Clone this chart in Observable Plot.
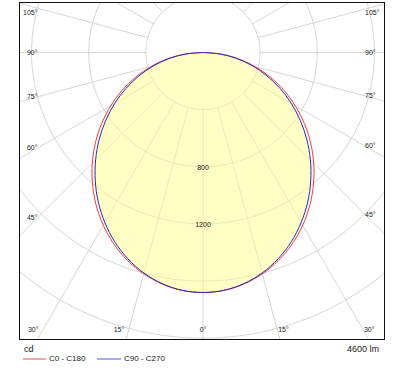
<!DOCTYPE html>
<html><head><meta charset="utf-8">
<script src="https://cdn.jsdelivr.net/npm/d3@7"></script>
<script src="https://cdn.jsdelivr.net/npm/@observablehq/plot@0.6"></script>
<style>
body{margin:0;background:#fff;font-family:"Liberation Sans",Arial,sans-serif;}
#wrap{position:relative;width:405px;height:370px;overflow:hidden;}
#wrap svg{position:absolute;left:0;top:0;}
.t{position:absolute;font-size:9px;color:#222;line-height:10px;white-space:nowrap;}
.lg{position:absolute;font-size:8px;color:#222;line-height:10px;white-space:nowrap;}
.sw{position:absolute;height:2px;}
</style></head><body><div id="wrap"></div>
<script>
// ---- data ----
const gammaDeg = [0,5,10,15,20,25,30,35,40,45,50,55,60,65,70,75,80,85,90];
const intensityC0C180  = [1680,1672,1646,1604,1548,1478,1396,1304,1203,1096,983,866,746,624,500,376,251,125,0];
const intensityC90C270 = [1680,1671,1643,1598,1537,1462,1374,1278,1173,1063,949,832,714,595,476,357,237,119,0];
const seriesNames = ["C0 - C180","C90 - C270"];
const circleValues = [400,800,1200,1600,2000,2400];
const circleLabelValues = [800,1200];
const angleTicks = [0,15,30,45,60,75,90,105];
const unitLabel = "cd";
const fluxLabel = "4600 lm";

// ---- layout ----
const W = 405, H = 341, mL = 19, mR = 21, mT = 2, mB = 2;
const cx = 202.5, cy = 52, k = 7.0; // centre (px) and cd per px
const xDom = [(mL - cx) * k, (W - mR - cx) * k];
const yDom = [-(H - mB - cy) * k, (cy - mT) * k];
const rad = d => d * Math.PI / 180;

function polarSeries(vals) {
  const pts = [];
  for (let i = gammaDeg.length - 1; i >= 1; i--) {
    const g = rad(-gammaDeg[i]);
    pts.push({x: vals[i] * Math.sin(g), y: -vals[i] * Math.cos(g)});
  }
  for (let i = 0; i < gammaDeg.length; i++) {
    const g = rad(gammaDeg[i]);
    pts.push({x: vals[i] * Math.sin(g), y: -vals[i] * Math.cos(g)});
  }
  return pts;
}
const redPts = polarSeries(intensityC0C180);
const bluePts = polarSeries(intensityC90C270);

// grid
const circlePts = circleValues.flatMap(r => d3.range(0, 361, 2).map(a => ({r, x: r * Math.sin(rad(a)), y: r * Math.cos(rad(a))})));
const spokes = d3.range(0, 360, 15).map(a => ({
  x1: circleValues[0] * Math.sin(rad(a)), y1: -circleValues[0] * Math.cos(rad(a)),
  x2: 4000 * Math.sin(rad(a)), y2: -4000 * Math.cos(rad(a))
}));

// angle labels
const sideX = 165.5 * k, rightX = (364.5 - cx) * k, bottomY = -(329 - cy) * k, topClamp = (cy - 12) * k;
const endLabels = [], startLabels = [], midLabels = [];
for (const a of angleTicks) {
  const txt = a + "°";
  if (a === 0) { midLabels.push({x: 0, y: bottomY, txt}); continue; }
  const t = Math.tan(rad(a));
  const ySide = -sideX / t;
  if (ySide > bottomY) {
    const y = Math.min(ySide, topClamp);
    endLabels.push({x: -sideX, y, txt});
    startLabels.push({x: rightX, y: Math.min(-rightX / t, topClamp), txt});
  } else {
    const xi = -bottomY * t;
    endLabels.push({x: -xi - 4.5 * k, y: bottomY, txt});
    startLabels.push({x: xi + 1 * k, y: bottomY, txt});
  }
}
const circleLabels = circleLabelValues.map(v => ({x: 0, y: -v, txt: String(v)}));

const font = "Liberation Sans, Arial, sans-serif";
const txtOpts = {x: "x", y: "y", text: "txt", fontSize: 7, fill: "#222", fontFamily: font};

const chart = Plot.plot({
  width: W, height: H,
  marginLeft: mL, marginRight: mR, marginTop: mT, marginBottom: mB,
  x: {domain: xDom, axis: null},
  y: {domain: yDom, axis: null},
  style: {background: "#fff", fontFamily: font},
  marks: [
    Plot.line(circlePts, {x: "x", y: "y", z: "r", stroke: "#d6d6d6", strokeWidth: 1, clip: true}),
    Plot.link(spokes, {x1: "x1", y1: "y1", x2: "x2", y2: "y2", stroke: "#d6d6d6", strokeWidth: 1, clip: true}),
    Plot.line(bluePts, {x: "x", y: "y", fill: "#ffff8c", fillOpacity: 0.5, stroke: "none", curve: "catmull-rom"}),
    Plot.line(redPts, {x: "x", y: "y", stroke: "#f03c3c", strokeWidth: 1, curve: "catmull-rom"}),
    Plot.line(bluePts, {x: "x", y: "y", stroke: "#2a2ab4", strokeWidth: 1, curve: "catmull-rom"}),
    Plot.text(circleLabels, {...txtOpts, dy: 1}),
    Plot.text(endLabels, {...txtOpts, textAnchor: "end"}),
    Plot.text(startLabels, {...txtOpts, textAnchor: "start"}),
    Plot.text(midLabels, {...txtOpts, textAnchor: "middle"}),
    Plot.frame({stroke: "#111", strokeWidth: 1})
  ]
});
const wrap = document.getElementById("wrap");
wrap.appendChild(chart);

function addDiv(cls, text, style) {
  const d = document.createElement("div");
  d.className = cls; if (text) d.textContent = text;
  Object.assign(d.style, style); wrap.appendChild(d); return d;
}
addDiv("t", unitLabel, {left: "24px", top: "344px"});
addDiv("t", fluxLabel, {right: "26px", top: "344px"});
addDiv("sw", "", {left: "23px", top: "358px", width: "23px", background: "#f4a3b3"});
addDiv("lg", seriesNames[0], {left: "49px", top: "354px"});
addDiv("sw", "", {left: "97px", top: "358px", width: "24px", background: "#a9a9ee"});
addDiv("lg", seriesNames[1], {left: "124px", top: "354px"});
</script>
</body></html>
